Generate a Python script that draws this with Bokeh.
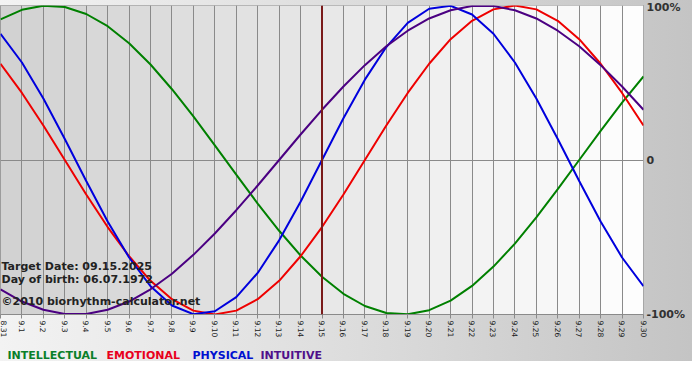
import math
from bokeh.plotting import figure
from bokeh.layouts import column
from bokeh.models import Range1d, FixedTicker, Span, Label, LinearAxis
from bokeh.embed import file_html
from bokeh.resources import INLINE

# ---- data (one value per day, 8.31 .. 9.30) ----
day_labels = ["8.31", "9.1", "9.2", "9.3", "9.4", "9.5", "9.6", "9.7", "9.8", "9.9",
              "9.10", "9.11", "9.12", "9.13", "9.14", "9.15", "9.16", "9.17", "9.18",
              "9.19", "9.20", "9.21", "9.22", "9.23", "9.24", "9.25", "9.26", "9.27",
              "9.28", "9.29", "9.30"]
target_label = "9.15"

physical = [0.817, 0.631, 0.398, 0.136, -0.136, -0.398, -0.631, -0.817, -0.942, -0.998,
            -0.979, -0.888, -0.731, -0.520, -0.270, 0.000, 0.270, 0.520, 0.731, 0.888,
            0.979, 0.998, 0.942, 0.817, 0.631, 0.398, 0.136, -0.136, -0.398, -0.631, -0.817]
emotional = [0.623, 0.434, 0.223, 0.000, -0.223, -0.434, -0.623, -0.782, -0.901, -0.975,
             -1.000, -0.975, -0.901, -0.782, -0.623, -0.434, -0.223, 0.000, 0.223, 0.434,
             0.623, 0.782, 0.901, 0.975, 1.000, 0.975, 0.901, 0.782, 0.623, 0.434, 0.223]
intellectual = [0.910, 0.972, 0.999, 0.990, 0.945, 0.866, 0.756, 0.618, 0.458, 0.282,
                0.095, -0.095, -0.282, -0.458, -0.618, -0.756, -0.866, -0.945, -0.990, -0.999,
                -0.972, -0.910, -0.815, -0.690, -0.541, -0.372, -0.189, 0.000, 0.189, 0.372, 0.541]
intuitive = [-0.837, -0.916, -0.969, -0.997, -0.997, -0.969, -0.916, -0.837, -0.736, -0.614,
             -0.476, -0.325, -0.165, 0.000, 0.165, 0.325, 0.476, 0.614, 0.736, 0.837,
             0.916, 0.969, 0.997, 0.997, 0.969, 0.916, 0.837, 0.736, 0.614, 0.476, 0.325]

series_names = ["INTELLECTUAL", "EMOTIONAL", "PHYSICAL", "INTUITIVE"]
series_values = [intellectual, emotional, physical, intuitive]
series_colors = ["#008000", "#ee0000", "#0000dd", "#4b0082"]
legend_colors = ["#0a7f2a", "#e8001c", "#0010d0", "#50108a"]

y_ticks = [-1, 0, 1]
y_tick_labels = ["-100%", "0", "100%"]

info_lines = ["Target Date: 09.15.2025", "Day of birth: 06.07.1972", "\u00a92010 biorhythm-calculator.net"]

x = list(range(len(day_labels)))
n = len(day_labels) - 1
W = 692
H_MAIN = 340
H_LEG = 372 - H_MAIN
H_WHITE = 11
GRADIENT = "linear-gradient(to right, #f3f3f3 0%, #dddddd 50%, #c4c4c4 100%)"

p = figure(width=W, height=H_MAIN, output_backend="svg", toolbar_location=None,
           x_range=Range1d(0, n), y_range=Range1d(-1, 1),
           min_border_left=0, min_border_top=5, min_border_right=49, min_border_bottom=26)
p.border_fill_alpha = 0
p.styles = {"background": GRADIENT}
p.background_fill_color = "#f0f0f0"
p.outline_line_color = "#8a8a8a"
p.yaxis.visible = False

# column shading of the plot area (darker on the left, almost white on the right)
lefts = x[:-1]
rights = x[1:]
cols = []
for i in lefts:
    f = i / (n - 1)
    g = int(round(0xd2 + (0xfd - 0xd2) * f))
    cols.append("#%02x%02x%02x" % (g, g, g))
bg = p.quad(left=lefts, right=rights, bottom=-1.2, top=1.2, fill_color=cols, line_color=None)
bg.level = "image"

# grid
p.xgrid.ticker = FixedTicker(ticks=x)
p.xgrid.grid_line_color = "#8a8a8a"
p.ygrid.ticker = FixedTicker(ticks=y_ticks)
p.ygrid.grid_line_color = "#8a8a8a"

# x axis
ax = p.xaxis[0]
ax.ticker = FixedTicker(ticks=x)
ax.major_label_overrides = {i: lab for i, lab in enumerate(day_labels)}
ax.major_label_orientation = -math.pi / 2
ax.major_label_text_font = "DejaVu Sans"
ax.major_label_text_font_size = "7.5px"
ax.major_label_text_color = "#1a1a1a"
ax.major_label_standoff = 2
ax.major_tick_in = 0
ax.major_tick_out = 4
ax.major_tick_line_color = "#8a8a8a"
ax.minor_tick_line_color = None
ax.axis_line_color = "#8a8a8a"

# right axis with percentages
ry = LinearAxis(ticker=FixedTicker(ticks=y_ticks),
                major_label_overrides={t: s for t, s in zip(y_ticks, y_tick_labels)})
ry.axis_line_color = None
ry.major_tick_line_color = None
ry.minor_tick_line_color = None
ry.major_tick_out = 0
ry.major_tick_in = 0
ry.major_label_standoff = 3
ry.major_label_text_font = "DejaVu Sans"
ry.major_label_text_font_style = "bold"
ry.major_label_text_font_size = "11px"
ry.major_label_text_color = "#333333"
p.add_layout(ry, "right")

# target date marker
p.add_layout(Span(location=day_labels.index(target_label), dimension="height",
                  line_color="#7a1a1a", line_width=2))

# biorhythm curves
for vals, col in zip(series_values, series_colors):
    p.line(x, vals, line_color=col, line_width=2)

# info text inside the plot
for yv, txt in zip([-0.689, -0.773, -0.913], info_lines):
    p.add_layout(Label(x=0, y=yv, x_offset=1, text=txt, text_baseline="middle",
                       text_font="DejaVu Sans", text_font_style="bold",
                       text_font_size="11px", text_color="#222222"))

# legend strip beneath the chart
lg = figure(width=W, height=H_LEG, output_backend="svg", toolbar_location=None,
            x_range=Range1d(0, W), y_range=Range1d(0, H_LEG),
            min_border_left=0, min_border_right=0, min_border_top=0, min_border_bottom=0)
lg.axis.visible = False
lg.grid.visible = False
lg.outline_line_color = None
lg.border_fill_alpha = 0
lg.background_fill_alpha = 0
lg.styles = {"background": "linear-gradient(to bottom, rgba(255,255,255,0) 0px, "
                           "rgba(255,255,255,0) %dpx, #ffffff %dpx), %s"
                           % (H_LEG - H_WHITE, H_LEG - H_WHITE, GRADIENT)}
for xo, txt, col in zip([7, 106, 192, 260], series_names, legend_colors):
    lg.add_layout(Label(x=0, y=H_LEG - 14.5, x_offset=xo, text=txt, text_baseline="middle",
                        text_font="DejaVu Sans", text_font_style="bold",
                        text_font_size="11px", text_color=col))

layout = column(p, lg, spacing=0)
open("out.html", "w").write(file_html(layout, INLINE))
